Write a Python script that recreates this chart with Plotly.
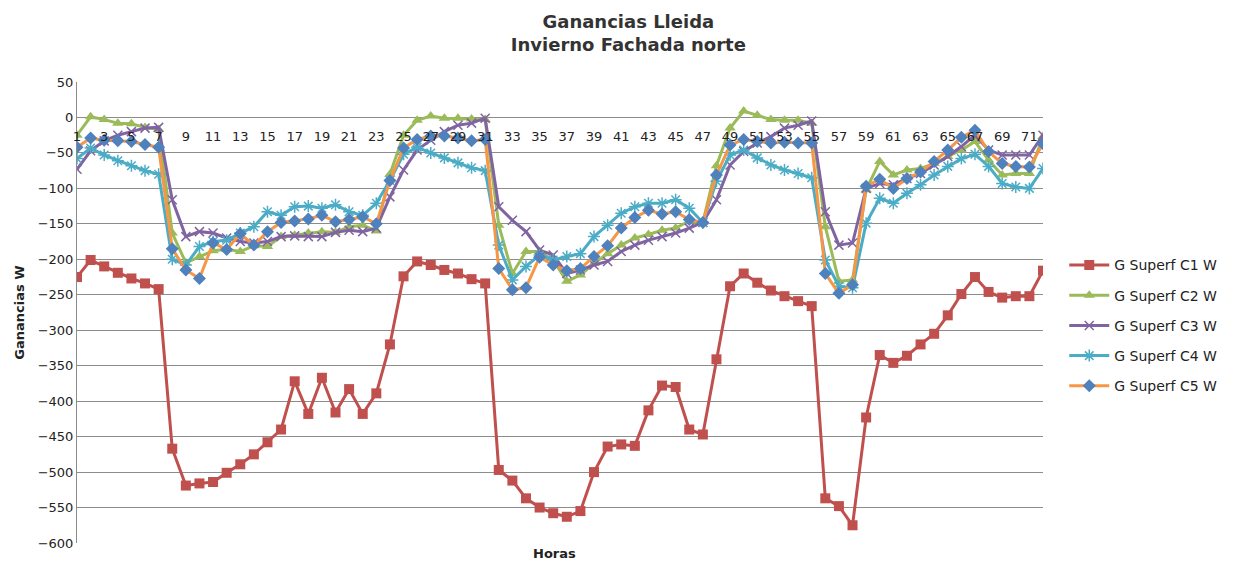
import plotly.graph_objects as go

# -----------------------
# Data
# -----------------------

horas = list(range(1, 73))

c1 = [-225, -201, -210, -219, -227, -234, -242, -467, -519, -516, -514, -501, -489, -475, -458, -440,
      -372, -418, -367, -416, -383, -418, -389, -320, -224, -203, -208, -215, -220, -228, -234, -497,
      -512, -537, -550, -558, -563, -555, -500, -464, -461, -463, -413, -378, -380, -440, -447, -341,
      -238, -220, -233, -244, -252, -259, -266, -537, -548, -575, -423, -335, -346, -336, -320, -305,
      -279, -249, -225, -246, -254, -252, -252, -216]

c2 = [-25, 1, -3, -8, -9, -14, -17, -163, -205, -196, -188, -186, -189, -181, -182, -168,
      -166, -163, -161, -162, -154, -152, -160, -80, -25, -4, 2, -1, -1, -2, -3, -152,
      -220, -189, -189, -201, -231, -222, -206, -192, -180, -170, -165, -159, -156, -146, -148, -68,
      -15, 9, 3, -3, -4, -4, -8, -154, -231, -229, -102, -62, -81, -74, -72, -65,
      -55, -46, -34, -60, -81, -79, -79, -27]

c3 = [-73, -47, -33, -25, -20, -15, -14, -116, -168, -161, -163, -170, -175, -177, -175, -168,
      -167, -168, -168, -162, -159, -161, -156, -112, -74, -46, -32, -20, -11, -8, -1, -126,
      -145, -161, -187, -194, -220, -215, -208, -203, -189, -180, -173, -168, -163, -156, -148, -116,
      -67, -48, -36, -27, -15, -11, -5, -133, -180, -177, -100, -93, -95, -86, -79, -67,
      -55, -41, -25, -46, -53, -53, -53, -25]

c4 = [-58, -43, -53, -61, -68, -75, -80, -200, -208, -182, -175, -173, -163, -154, -133, -138,
      -126, -125, -128, -123, -133, -138, -121, -89, -52, -42, -50, -57, -64, -71, -75, -180,
      -229, -210, -194, -201, -196, -192, -168, -152, -135, -126, -121, -121, -116, -128, -148, -90,
      -53, -46, -57, -67, -74, -79, -85, -201, -238, -240, -149, -114, -121, -107, -95, -81,
      -69, -58, -52, -69, -93, -98, -100, -72]

c5 = [-42, -29, -32, -33, -34, -38, -42, -185, -215, -227, -177, -186, -164, -180, -161, -148,
      -146, -143, -138, -147, -144, -140, -150, -89, -43, -31, -26, -26, -29, -33, -31, -213,
      -243, -240, -197, -208, -216, -213, -196, -181, -156, -141, -131, -136, -133, -144, -148, -81,
      -39, -31, -34, -36, -35, -36, -36, -220, -248, -236, -97, -87, -100, -86, -77, -62,
      -46, -28, -18, -48, -65, -69, -70, -37]

nombres = ["G Superf C1 W", "G Superf C2 W", "G Superf C3 W", "G Superf C4 W", "G Superf C5 W"]

y_ticks = list(range(-600, 51, 50))
x_ticks = list(range(1, 72, 2))

# -----------------------
# Chart
# -----------------------

# the page body has an 8px margin, so the figure is 8px smaller on each side
fuente = "'DejaVu Sans', Verdana, sans-serif"

fig = go.Figure()

fig.add_trace(go.Scatter(
    x=horas, y=c1, name=nombres[0], mode="lines+markers", legendgroup="c1",
    line=dict(color="#C0504D", width=3),
    marker=dict(symbol="square", size=10, color="#C0504D")
))

fig.add_trace(go.Scatter(
    x=horas, y=c2, name=nombres[1], mode="lines+markers", legendgroup="c2",
    line=dict(color="#9BBB59", width=3),
    marker=dict(symbol="triangle-up", size=10, color="#9BBB59")
))

fig.add_trace(go.Scatter(
    x=horas, y=c3, name=nombres[2], mode="lines+markers", legendgroup="c3",
    line=dict(color="#8064A2", width=3),
    marker=dict(symbol="x-thin-open", size=9, color="#8064A2",
                line=dict(color="#8064A2", width=1.5))
))

fig.add_trace(go.Scatter(
    x=horas, y=c4, name=nombres[3], mode="lines+markers", legendgroup="c4",
    line=dict(color="#4BACC6", width=3),
    marker=dict(symbol="asterisk-open", size=10, color="#4BACC6",
                line=dict(color="#4BACC6", width=1.5))
))

fig.add_trace(go.Scatter(
    x=horas, y=c5, name=nombres[4], mode="lines+markers", legendgroup="c5",
    line=dict(color="#F79646", width=3),
    marker=dict(symbol="diamond", size=10, color="#4F81BD")
))

fig.update_layout(
    width=1226,
    height=558,
    margin=dict(l=69, r=191, t=74, b=23),
    paper_bgcolor="white",
    plot_bgcolor="white",
    font=dict(family=fuente, size=13, color="#222222"),
    title=dict(
        text="<b>Ganancias Lleida<br>Invierno Fachada norte</b>",
        x=0.506, xanchor="center", y=0.964, yanchor="middle",
        font=dict(size=18, color="#333333")
    ),
    xaxis=dict(
        range=[1, 72],
        tickvals=x_ticks,
        anchor="free",
        position=600 / 650,
        showgrid=False,
        showline=False,
        zeroline=False,
        ticks="",
        ticklabelstandoff=10,
        tickfont=dict(size=13, color="#222222")
    ),
    yaxis=dict(
        range=[-600, 50],
        tickvals=y_ticks,
        showgrid=True,
        gridcolor="#8c8c8c",
        gridwidth=1,
        zeroline=False,
        showline=True,
        linecolor="#8c8c8c",
        ticks="",
        tickfont=dict(size=13, color="#222222"),
        title=dict(text="<b>Ganancias W</b>", font=dict(size=13), standoff=10)
    ),
    legend=dict(
        x=1.022, xanchor="left", y=0.472, yanchor="middle",
        font=dict(size=14, color="#222222"),
        tracegroupgap=9,
        itemwidth=40
    ),
    annotations=[dict(
        text="<b>Horas</b>", xref="paper", yref="paper",
        x=0.494, y=-0.022, xanchor="center", yanchor="middle",
        showarrow=False, font=dict(size=13, color="#222222")
    )]
)

fig.write_html("out.html")
